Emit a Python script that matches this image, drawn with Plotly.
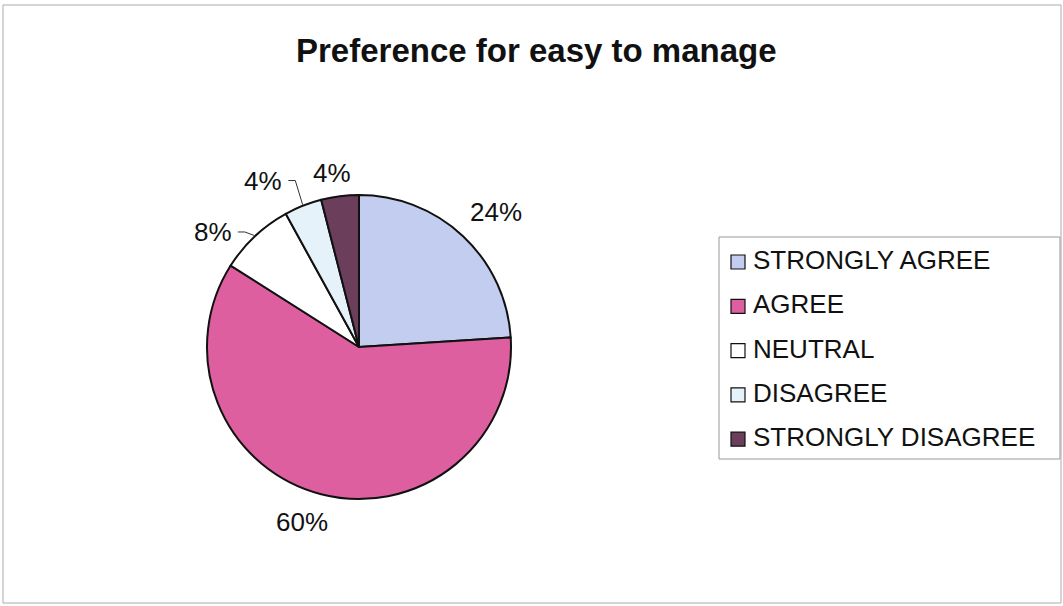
import math
import plotly.graph_objects as go

categories = ["STRONGLY AGREE", "AGREE", "NEUTRAL", "DISAGREE", "STRONGLY DISAGREE"]
values = [24, 60, 8, 4, 4]
colors = ["#C3CDEF", "#DE5FA0", "#FFFFFF", "#E6F2FA", "#6B3F5C"]
title_text = "Preference for easy to manage"

W, H = 1063, 606
cx, cy, R = 359, 347, 152  # pie centre / radius in px

fig = go.Figure()
fig.add_trace(go.Pie(
    labels=categories, values=values, sort=False, direction="clockwise",
    rotation=0, textinfo="none", hoverinfo="label+percent",
    marker=dict(colors=colors, line=dict(color="#111111", width=2)),
    domain=dict(x=[(cx - R) / W, (cx + R) / W], y=[(H - cy - R) / H, (H - cy + R) / H]),
    showlegend=False,
))

shapes = []
annotations = []
total = sum(values)
cum = 0
# label placement: radius (px) and angular nudge (deg) per slice
label_r = [192, 184, 186, 192, 176]
label_nudge = [2.2, 3.6, -8.6, -8.3, -1.6]
for i, v in enumerate(values):
    mid_deg = (cum + v / 2) / total * 360
    cum += v
    mid = math.radians(mid_deg)
    ang = math.radians(mid_deg + label_nudge[i])
    pct = f"{round(v / total * 100)}%"
    r = label_r[i]
    lx = cx + r * math.sin(ang)
    ly = cy - r * math.cos(ang)
    annotations.append(dict(x=lx / W, y=1 - ly / H, xref="paper", yref="paper", text=pct,
                            showarrow=False, font=dict(size=26, color="#111111"),
                            xanchor="center", yanchor="middle"))
    if i in (2, 3):
        ex = cx + (R + 1) * math.sin(mid)
        ey = cy - (R + 1) * math.cos(mid)
        sx = lx + 25
        shapes.append(dict(type="path", xref="paper", yref="paper",
                           path=f"M {sx/W},{1-ly/H} L {(sx+7)/W},{1-ly/H} L {ex/W},{1-ey/H}",
                           line=dict(color="#333333", width=1)))

# manual legend
lx0, ly0, lx1, ly1 = 719, 237, 1060, 459
shapes.append(dict(type="rect", xref="paper", yref="paper",
                   x0=lx0 / W, x1=lx1 / W, y0=1 - ly1 / H, y1=1 - ly0 / H,
                   line=dict(color="#999999", width=1), fillcolor="rgba(0,0,0,0)"))
for i, (c, col) in enumerate(zip(categories, colors)):
    yy = 260 + i * 44.3
    shapes.append(dict(type="rect", xref="paper", yref="paper",
                       x0=731 / W, x1=745 / W, y0=1 - (yy + 9) / H, y1=1 - (yy - 5) / H,
                       fillcolor=col, line=dict(color="#111111", width=1.2)))
    annotations.append(dict(x=751 / W, y=1 - yy / H, xref="paper", yref="paper", text=c,
                            showarrow=False, xanchor="left", yanchor="middle",
                            font=dict(size=26, color="#111111")))

# outer border
shapes.append(dict(type="rect", xref="paper", yref="paper", x0=3 / W, x1=1061 / W,
                   y0=1 - 603 / H, y1=1 - 5 / H, line=dict(color="#AAAAAA", width=1)))

annotations.append(dict(x=536 / W, y=1 - 51 / H, xref="paper", yref="paper",
                        text=f"<b>{title_text}</b>", showarrow=False,
                        xanchor="center", yanchor="middle",
                        font=dict(size=33, color="#111111")))

fig.update_layout(
    width=W, height=H, margin=dict(l=0, r=0, t=0, b=0),
    paper_bgcolor="white", plot_bgcolor="white",
    font=dict(family="Arial, 'Liberation Sans', sans-serif"),
    shapes=shapes, annotations=annotations,
)
fig.write_html("out.html", config={"displayModeBar": False},
               post_script="document.body.style.margin='0';document.body.style.overflow='hidden';")
